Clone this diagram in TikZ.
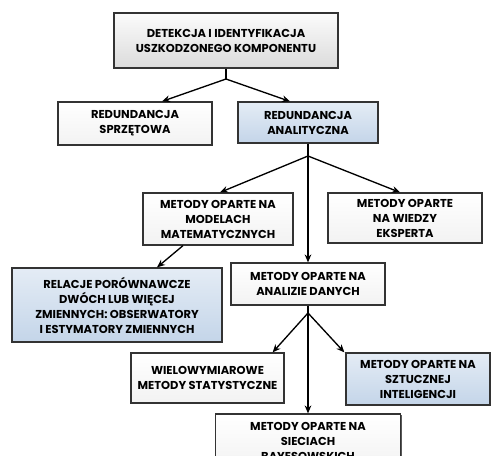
\documentclass[tikz,border=0pt]{standalone}
\usepackage{fontspec}
\setmainfont{Poppins}[BoldFont={Poppins Bold}]
\usetikzlibrary{arrows.meta,positioning,calc,shadows}

\definecolor{boxblue}{RGB}{228,236,245}
\definecolor{boxblue2}{RGB}{196,213,233}

\begin{document}
\begin{tikzpicture}[x=0.75pt,y=-0.75pt,
    box/.style={draw=black!80, line width=0.9pt, align=center,
        font=\bfseries\fontsize{8.6}{11.25}\selectfont, inner sep=1pt,
        top color=white, bottom color=gray!10,
        drop shadow={shadow xshift=1.1pt, shadow yshift=-1.1pt, fill=black!65, opacity=1}},
    graybox/.style={box, top color=gray!3, bottom color=gray!28},
    bluebox/.style={box, top color=boxblue, bottom color=boxblue2},
    arr/.style={-{Stealth[length=6pt,width=5pt]}, line width=1pt},
    link/.style={line width=1pt}]
    \clip (0,0) rectangle (492,455);
    \useasboundingbox (0,0) rectangle (492,455);

    % Boxes
    \node[graybox, minimum width=168pt, minimum height=41.25pt] (top) at (226,40.5)
        {DETEKCJA I IDENTYFIKACJA\\USZKODZONEGO KOMPONENTU};
    \node[box, minimum width=115.5pt, minimum height=32.25pt] (hw) at (135,123.5)
        {REDUNDANCJA\\SPRZĘTOWA};
    \node[bluebox, minimum width=105pt, minimum height=30.75pt] (an) at (308,122.5)
        {REDUNDANCJA\\ANALITYCZNA};
    \node[box, minimum width=112.5pt, minimum height=39pt] (mat) at (218,219)
        {METODY OPARTE NA\\MODELACH\\MATEMATYCZNYCH};
    \node[box, minimum width=115.5pt, minimum height=37.5pt] (eksp) at (405,218)
        {METODY OPARTE\\NA WIEDZY\\EKSPERTA};
    \node[bluebox, minimum width=157.5pt, minimum height=55.5pt] (rel) at (117,305)
        {RELACJE PORÓWNAWCZE\\DWÓCH LUB WIĘCEJ\\ZMIENNYCH: OBSERWATORY\\I ESTYMATORY ZMIENNYCH};
    \node[box, minimum width=115.5pt, minimum height=31.5pt] (dane) at (308,284)
        {METODY OPARTE NA\\ANALIZIE DANYCH};
    \node[box, minimum width=114.75pt, minimum height=37.5pt] (wiel) at (207.5,378)
        {WIELOWYMIAROWE\\METODY STATYSTYCZNE};
    \node[bluebox, minimum width=108pt, minimum height=39pt] (szt) at (418,379)
        {METODY OPARTE NA\\SZTUCZNEJ\\INTELIGENCJI};
    \node[box, minimum width=138.75pt, minimum height=41.25pt] (bay) at (308,441.5)
        {METODY OPARTE NA\\SIECIACH\\BAYESOWSKICH};

    % Connectors
    \coordinate (j1) at (226,79);
    \coordinate (j2) at (308,156);
    \coordinate (j3) at (308,313);
    \draw[link] (top.south) -- (j1);
    \draw[arr] (j1) -- ($(hw.north)+(27,0)$);
    \draw[arr] (j1) -- ($(an.north)+(-18,0)$);
    \draw[arr] (an.south) -- (dane.north);
    \draw[arr] (j2) -- ($(mat.north)+(2,0)$);
    \draw[arr] (j2) -- ($(eksp.north)+(-5,0)$);
    \draw[arr] ($(mat.south)+(-35,0)$) -- ($(rel.north)+(40,0)$);
    \draw[arr] (dane.south) -- (bay.north);
    \draw[arr] (j3) -- ($(wiel.north east)+(-12,0)$);
    \draw[arr] (j3) -- ($(szt.north west)+(-1,0)$);
\end{tikzpicture}
\end{document}
